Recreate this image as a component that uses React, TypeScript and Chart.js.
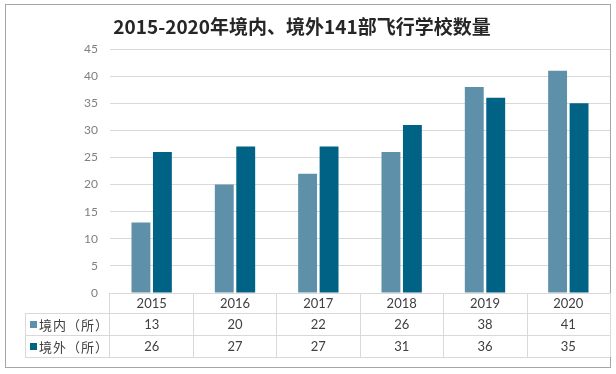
import React, { useEffect, useRef } from "react";
import { Chart, registerables } from "chart.js";

Chart.register(...registerables);

const chartTitle = "2015-2020年境内、境外141部飞行学校数量";
const years = ["2015", "2016", "2017", "2018", "2019", "2020"];
const domestic = [13, 20, 22, 26, 38, 41];
const overseas = [26, 27, 27, 31, 36, 35];
const seriesNames = ["境内（所）", "境外（所）"];
const seriesColors = ["#5e91a9", "#006285"];
const yMax = 45;
const yStep = 5;

const tablePlugin = {
  id: "dataTable",
  afterDraw(chart: any) {
    const ctx = chart.ctx as CanvasRenderingContext2D;
    const area = chart.chartArea;
    const x = chart.scales.x;
    const left = area.left - 1;
    const right = area.right;
    const top = area.bottom;
    const rowH = [20, 22, 22];
    const r1 = top + rowH[0];
    const r2 = r1 + rowH[1];
    const r3 = r2 + rowH[2];
    const legendLeft = 25;
    const n = years.length;
    const colW = (right - left) / n;

    ctx.save();
    ctx.strokeStyle = "#a6a6a6";
    ctx.lineWidth = 1;
    ctx.strokeRect(5.5, 4.5, 605, 363);

    ctx.strokeStyle = "#d9d9d9";
    ctx.beginPath();
    const hl = (y: number, x0: number, x1: number) => {
      ctx.moveTo(x0, Math.round(y) + 0.5);
      ctx.lineTo(x1, Math.round(y) + 0.5);
    };
    const vl = (xx: number, y0: number, y1: number) => {
      ctx.moveTo(Math.round(xx) + 0.5, y0);
      ctx.lineTo(Math.round(xx) + 0.5, y1);
    };
    hl(top, left, right);
    hl(r1, legendLeft, right);
    hl(r2, legendLeft, right);
    hl(r3, legendLeft, right);
    vl(legendLeft, r1, r3);
    for (let i = 0; i <= n; i++) {
      vl(left + colW * i, top, r3);
    }
    ctx.stroke();

    ctx.fillStyle = "#404040";
    ctx.font = "13px Lato, 'Noto Sans CJK SC', sans-serif";
    ctx.textAlign = "center";
    ctx.textBaseline = "middle";
    years.forEach((yr, i) => {
      const cx = x.getPixelForValue(i);
      ctx.fillText(yr, cx, (top + r1) / 2 + 1);
      ctx.fillText(String(domestic[i]), cx, (r1 + r2) / 2 + 1);
      ctx.fillText(String(overseas[i]), cx, (r2 + r3) / 2 + 1);
    });

    ctx.textAlign = "left";
    ctx.font = "13px 'Noto Sans CJK SC', sans-serif";
    (ctx as any).letterSpacing = "1px";
    [r1, r2].forEach((ry, k) => {
      const cy = ry + rowH[k + 1] / 2;
      ctx.fillStyle = seriesColors[k];
      ctx.fillRect(30, Math.round(cy) - 3, 7, 7);
      ctx.fillStyle = "#404040";
      ctx.fillText(seriesNames[k], 39, cy + 1);
    });
    (ctx as any).letterSpacing = "0px";

    ctx.fillStyle = "#262626";
    ctx.font = "bold 19px 'Noto Sans CJK SC', sans-serif";
    ctx.textAlign = "center";
    ctx.fillText(chartTitle, 302, 27);
    ctx.restore();
  },
};

export default function App() {
  const ref = useRef<HTMLCanvasElement>(null);
  useEffect(() => {
    if (!ref.current) return;
    const chart = new Chart(ref.current, {
      type: "bar",
      data: {
        labels: years,
        datasets: [
          {
            label: seriesNames[0],
            data: domestic,
            backgroundColor: seriesColors[0],
            barPercentage: 0.88,
            categoryPercentage: 0.515,
          },
          {
            label: seriesNames[1],
            data: overseas,
            backgroundColor: seriesColors[1],
            barPercentage: 0.88,
            categoryPercentage: 0.515,
          },
        ],
      },
      options: {
        responsive: false,
        animation: false,
        layout: { padding: { top: 49, bottom: 81, right: 6, left: 0 } },
        plugins: { legend: { display: false }, tooltip: { enabled: false }, title: { display: false } },
        scales: {
          x: { display: false },
          y: {
            min: 0,
            max: yMax,
            border: { display: false },
            grid: { color: "#d9d9d9", drawTicks: false },
            ticks: {
              stepSize: yStep,
              color: "#7f7f7f",
              padding: 12,
              font: { size: 12, family: "Lato, sans-serif" },
            },
            afterFit(scale: any) {
              scale.width = 110;
            },
          },
        },
      },
      plugins: [tablePlugin],
    });
    return () => chart.destroy();
  }, []);
  return (
    <div style={{ position: "absolute", left: 0, top: 0, width: 616, height: 374, background: "#fff" }}>
      <canvas ref={ref} width={616} height={374} />
    </div>
  );
}
